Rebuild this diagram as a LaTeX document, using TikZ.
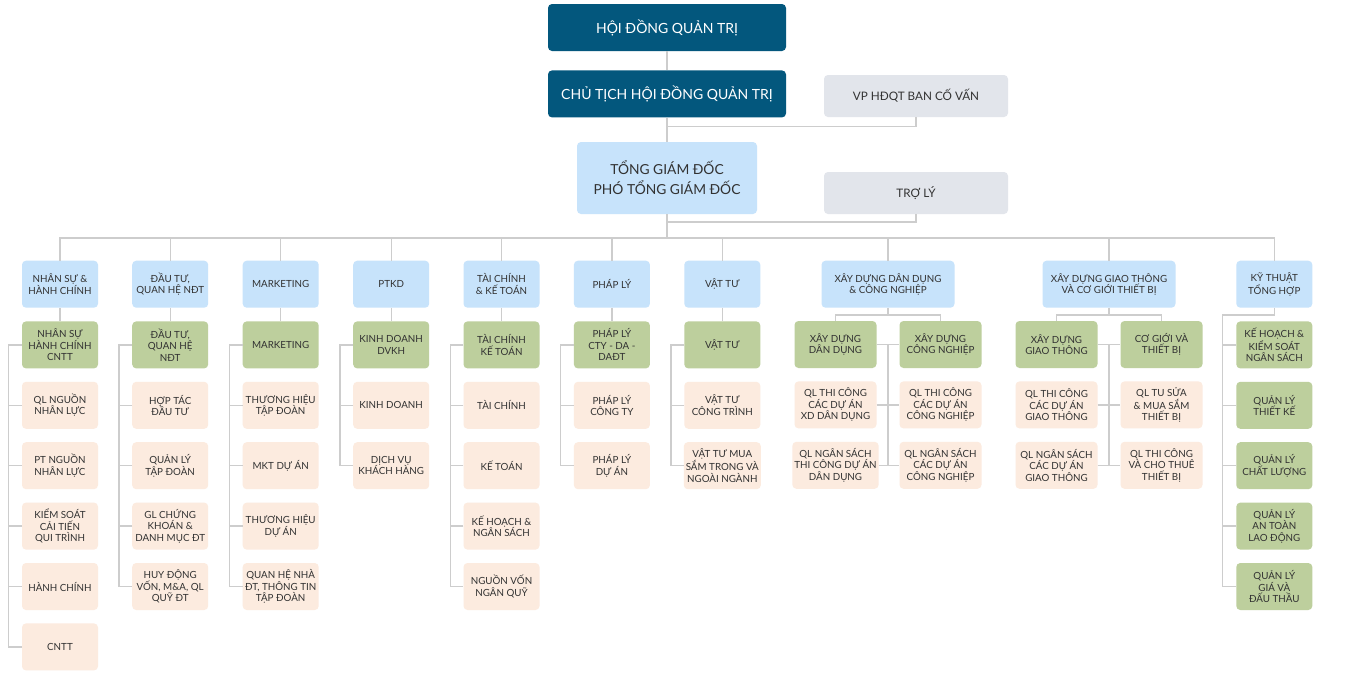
\documentclass[tikz,border=0pt]{standalone}
\usepackage{fontspec}
\setmainfont{Lato}
\usetikzlibrary{positioning}
\definecolor{boardblue}{RGB}{3,87,125}
\definecolor{gmblue}{RGB}{199,227,251}
\definecolor{unitgreen}{RGB}{189,207,157}
\definecolor{subpeach}{RGB}{252,235,223}
\definecolor{sidegray}{RGB}{226,229,235}
\definecolor{linegray}{RGB}{205,205,205}
\definecolor{textgray}{RGB}{50,50,50}

\begin{document}
\begin{tikzpicture}[x=1pt, y=-1pt,
    basebox/.style={rectangle, rounded corners=4pt, minimum height=47pt,
                    minimum width=76pt, align=center, inner sep=2pt, text=textgray,
                    font=\fontsize{9.8}{11.5}\selectfont},
    boardbox/.style={basebox, fill=boardblue, text=white, minimum width=238pt,
                     font=\fontsize{14}{17}\selectfont},
    gmbox/.style={basebox, fill=gmblue, minimum width=180pt, minimum height=72pt,
                  font=\fontsize{13.8}{20}\selectfont},
    sidebox/.style={basebox, fill=sidegray, minimum width=184pt, minimum height=42pt,
                    font=\fontsize{11.7}{13}\selectfont},
    deptbox/.style={basebox, fill=gmblue},
    unitbox/.style={basebox, fill=unitgreen},
    subbox/.style={basebox, fill=subpeach},
    conn/.style={draw=linegray, line width=1.3pt},
  ]
    \useasboundingbox[fill=white] (0,0) rectangle (1355,686);

    % Board
    \node[boardbox] (hdqt) at (667,27.5) {HỘI ĐỒNG QUẢN TRỊ};
    \node[boardbox, below=19pt of hdqt] (ctich) {CHỦ TỊCH HỘI ĐỒNG QUẢN TRỊ};
    \node[sidebox] (vp) at (916,96) {VP HĐQT BAN CỐ VẤN};
    \node[gmbox] (tgd) at (667,178) {TỔNG GIÁM ĐỐC\\PHÓ TỔNG GIÁM ĐỐC};
    \node[sidebox] (troly) at (916,193) {TRỢ LÝ};

    % Departments
    \node[deptbox] (hc) at (60,284.2) {NHÂN SỰ \&\\HÀNH CHÍNH};
    \node[deptbox] (dt) at (170.2,284.2) {ĐẦU TƯ,\\QUAN HỆ NĐT};
    \node[deptbox] (mk) at (280.7,284.2) {MARKETING};
    \node[deptbox] (kd) at (391.2,284.2) {PTKD};
    \node[deptbox] (tc) at (501.5,284.2) {TÀI CHÍNH\\\& KẾ TOÁN};
    \node[deptbox] (pl) at (611.9,284.2) {PHÁP LÝ};
    \node[deptbox] (vt) at (722.3,284.2) {VẬT TƯ};
    \node[deptbox, minimum width=133pt] (dd) at (888,284.2) {XÂY DỰNG DÂN DỤNG\\\& CÔNG NGHIỆP};
    \node[deptbox, minimum width=133pt] (gt) at (1109,284.2) {XÂY DỰNG GIAO THÔNG\\VÀ CƠ GIỚI THIẾT BỊ};
    \node[deptbox] (kt) at (1274.3,284.2) {KỸ THUẬT\\TỔNG HỢP};

    % Nhan su
    \node[unitbox, below=13.3pt of hc] (hc1) {NHÂN SỰ\\HÀNH CHÍNH\\CNTT};
    \node[subbox, below=13pt of hc1] (hc2) {QL NGUỒN\\NHÂN LỰC};
    \node[subbox, below=13pt of hc2] (hc3) {PT NGUỒN\\NHÂN LỰC};
    \node[subbox, below=13pt of hc3] (hc4) {KIỂM SOÁT\\CẢI TIẾN\\QUI TRÌNH};
    \node[subbox, below=13pt of hc4] (hc5) {HÀNH CHÍNH};
    \node[subbox, below=13pt of hc5] (hc6) {CNTT};

    % Dau tu
    \node[unitbox, below=13.3pt of dt] (dt1) {ĐẦU TƯ,\\QUAN HỆ\\NĐT};
    \node[subbox, below=13pt of dt1] (dt2) {HỢP TÁC\\ĐẦU TƯ};
    \node[subbox, below=13pt of dt2] (dt3) {QUẢN LÝ\\TẬP ĐOÀN};
    \node[subbox, below=13pt of dt3] (dt4) {GL CHỨNG\\KHOÁN \&\\DANH MỤC ĐT};
    \node[subbox, below=13pt of dt4] (dt5) {HUY ĐỘNG\\VỐN, M\&A, QL\\QUỸ ĐT};

    % Marketing
    \node[unitbox, below=13.3pt of mk] (mk1) {MARKETING};
    \node[subbox, below=13pt of mk1] (mk2) {THƯƠNG HIỆU\\TẬP ĐOÀN};
    \node[subbox, below=13pt of mk2] (mk3) {MKT DỰ ÁN};
    \node[subbox, below=13pt of mk3] (mk4) {THƯƠNG HIỆU\\DỰ ÁN};
    \node[subbox, below=13pt of mk4] (mk5) {QUAN HỆ NHÀ\\ĐT, THÔNG TIN\\TẬP ĐOÀN};

    % Kinh doanh
    \node[unitbox, below=13.3pt of kd] (kd1) {KINH DOANH\\DVKH};
    \node[subbox, below=13pt of kd1] (kd2) {KINH DOANH};
    \node[subbox, below=13pt of kd2] (kd3) {DỊCH VỤ\\KHÁCH HÀNG};

    % Tai chinh
    \node[unitbox, below=13.3pt of tc] (tc1) {TÀI CHÍNH\\KẾ TOÁN};
    \node[subbox, below=13pt of tc1] (tc2) {TÀI CHÍNH};
    \node[subbox, below=13pt of tc2] (tc3) {KẾ TOÁN};
    \node[subbox, below=13pt of tc3] (tc4) {KẾ HOẠCH \&\\NGÂN SÁCH};
    \node[subbox, below=13pt of tc4] (tc5) {NGUỒN VỐN\\NGÂN QUỸ};

    % Phap ly
    \node[unitbox, below=13.3pt of pl] (pl1) {PHÁP LÝ\\CTY - DA -\\DAĐT};
    \node[subbox, below=13pt of pl1] (pl2) {PHÁP LÝ\\CÔNG TY};
    \node[subbox, below=13pt of pl2] (pl3) {PHÁP LÝ\\DỰ ÁN};

    % Vat tu
    \node[unitbox, below=13.3pt of vt] (vt1) {VẬT TƯ};
    \node[subbox, below=13pt of vt1] (vt2) {VẬT TƯ\\CÔNG TRÌNH};
    \node[subbox, below=13pt of vt2] (vt3) {VẬT TƯ MUA\\SẮM TRONG VÀ\\NGOÀI NGÀNH};

    % Xay dung dan dung
    \node[unitbox, minimum width=82pt] (ddl1) at (835.5,344.5) {XÂY DỰNG\\DÂN DỤNG};
    \node[subbox, minimum width=82pt, below=13pt of ddl1] (ddl2) {QL THI CÔNG\\CÁC DỰ ÁN\\XD DÂN DỤNG};
    \node[subbox, minimum width=82pt, below=13pt of ddl2] (ddl3) {QL NGÂN SÁCH\\THI CÔNG DỰ ÁN\\DÂN DỤNG};
    \node[unitbox, minimum width=82pt] (ddr1) at (940.5,344.5) {XÂY DỰNG\\CÔNG NGHIỆP};
    \node[subbox, minimum width=82pt, below=13pt of ddr1] (ddr2) {QL THI CÔNG\\CÁC DỰ ÁN\\CÔNG NGHIỆP};
    \node[subbox, minimum width=82pt, below=13pt of ddr2] (ddr3) {QL NGÂN SÁCH\\CÁC DỰ ÁN\\CÔNG NGHIỆP};

    % Xay dung giao thong
    \node[unitbox, minimum width=82pt] (gtl1) at (1056.5,344.5) {XÂY DỰNG\\GIAO THÔNG};
    \node[subbox, minimum width=82pt, below=13pt of gtl1] (gtl2) {QL THI CÔNG\\CÁC DỰ ÁN\\GIAO THÔNG};
    \node[subbox, minimum width=82pt, below=13pt of gtl2] (gtl3) {QL NGÂN SÁCH\\CÁC DỰ ÁN\\GIAO THÔNG};
    \node[unitbox, minimum width=82pt] (gtr1) at (1161.5,344.5) {CƠ GIỚI VÀ\\THIẾT BỊ};
    \node[subbox, minimum width=82pt, below=13pt of gtr1] (gtr2) {QL TU SỬA\\\& MUA SẮM\\THIẾT BỊ};
    \node[subbox, minimum width=82pt, below=13pt of gtr2] (gtr3) {QL THI CÔNG\\VÀ CHO THUÊ\\THIẾT BỊ};

    % Ky thuat
    \node[unitbox, below=13.3pt of kt] (kt1) {KẾ HOẠCH \&\\KIỂM SOÁT\\NGÂN SÁCH};
    \node[unitbox, below=13pt of kt1] (kt2) {QUẢN LÝ\\THIẾT KẾ};
    \node[unitbox, below=13pt of kt2] (kt3) {QUẢN LÝ\\CHẤT LƯỢNG};
    \node[unitbox, below=13pt of kt3] (kt4) {QUẢN LÝ\\AN TOÀN\\LAO ĐỘNG};
    \node[unitbox, below=13pt of kt4] (kt5) {QUẢN LÝ\\GIÁ VÀ\\ĐẤU THẦU};

    % Lines, top
    \coordinate (vpjoin) at (667,126.5);
    \coordinate (tljoin) at (667,222);
    \coordinate (bus) at (667,238);
    \draw[conn] (hdqt) -- (ctich);
    \draw[conn] (ctich) -- (tgd);
    \draw[conn] (vp) |- (vpjoin);
    \draw[conn] (troly) |- (tljoin);
    \draw[conn] (tgd) -- (bus);
    \draw[conn] (hc) |- (bus);
    \draw[conn] (dt) |- (bus);
    \draw[conn] (mk) |- (bus);
    \draw[conn] (kd) |- (bus);
    \draw[conn] (tc) |- (bus);
    \draw[conn] (pl) |- (bus);
    \draw[conn] (vt) |- (bus);
    \draw[conn] (dd) |- (bus);
    \draw[conn] (gt) |- (bus);
    \draw[conn] (kt) |- (bus);

    % Lines, columns
    \draw[conn] (hc) -- (hc1);
    \draw[conn] (hc1.west) -- ++(-13,0) |- (hc6);
    \draw[conn] (hc2.west) -- ++(-13,0) (hc3.west) -- ++(-13,0)
                (hc4.west) -- ++(-13,0) (hc5.west) -- ++(-13,0);
    \draw[conn] (dt) -- (dt1);
    \draw[conn] (dt1.west) -- ++(-13,0) |- (dt5);
    \draw[conn] (dt2.west) -- ++(-13,0) (dt3.west) -- ++(-13,0) (dt4.west) -- ++(-13,0);
    \draw[conn] (mk) -- (mk1);
    \draw[conn] (mk1.west) -- ++(-13,0) |- (mk5);
    \draw[conn] (mk2.west) -- ++(-13,0) (mk3.west) -- ++(-13,0) (mk4.west) -- ++(-13,0);
    \draw[conn] (kd) -- (kd1);
    \draw[conn] (kd1.west) -- ++(-13,0) |- (kd3);
    \draw[conn] (kd2.west) -- ++(-13,0);
    \draw[conn] (tc) -- (tc1);
    \draw[conn] (tc1.west) -- ++(-13,0) |- (tc5);
    \draw[conn] (tc2.west) -- ++(-13,0) (tc3.west) -- ++(-13,0) (tc4.west) -- ++(-13,0);
    \draw[conn] (pl) -- (pl1);
    \draw[conn] (pl1.west) -- ++(-13,0) |- (pl3);
    \draw[conn] (pl2.west) -- ++(-13,0);
    \draw[conn] (vt) -- (vt1);
    \draw[conn] (vt1.west) -- ++(-13,0) |- (vt3);
    \draw[conn] (vt2.west) -- ++(-13,0);

    % Lines, split columns
    \coordinate (ddsplit) at (888,315);
    \draw[conn] (dd) -- (ddsplit);
    \draw[conn] (ddl1) |- (ddsplit);
    \draw[conn] (ddr1) |- (ddsplit);
    \draw[conn] (ddl1) -- (ddr1);
    \draw[conn] (ddl2) -- (ddr2);
    \draw[conn] (ddl3) -- (ddr3);
    \draw[conn] (ddl1 -| dd) -- (ddl3 -| dd);
    \coordinate (gtsplit) at (1109,315);
    \draw[conn] (gt) -- (gtsplit);
    \draw[conn] (gtl1) |- (gtsplit);
    \draw[conn] (gtr1) |- (gtsplit);
    \draw[conn] (gtl1) -- (gtr1);
    \draw[conn] (gtl2) -- (gtr2);
    \draw[conn] (gtl3) -- (gtr3);
    \draw[conn] (gtl1 -| gt) -- (gtl3 -| gt);
    \coordinate (ktbar) at (1222.5,315);
    \draw[conn] (kt) |- (ktbar) |- (kt5);
    \draw[conn] (kt1.west) -- (kt1 -| ktbar);
    \draw[conn] (kt2.west) -- (kt2 -| ktbar);
    \draw[conn] (kt3.west) -- (kt3 -| ktbar);
    \draw[conn] (kt4.west) -- (kt4 -| ktbar);
  \end{tikzpicture}
\end{document}
